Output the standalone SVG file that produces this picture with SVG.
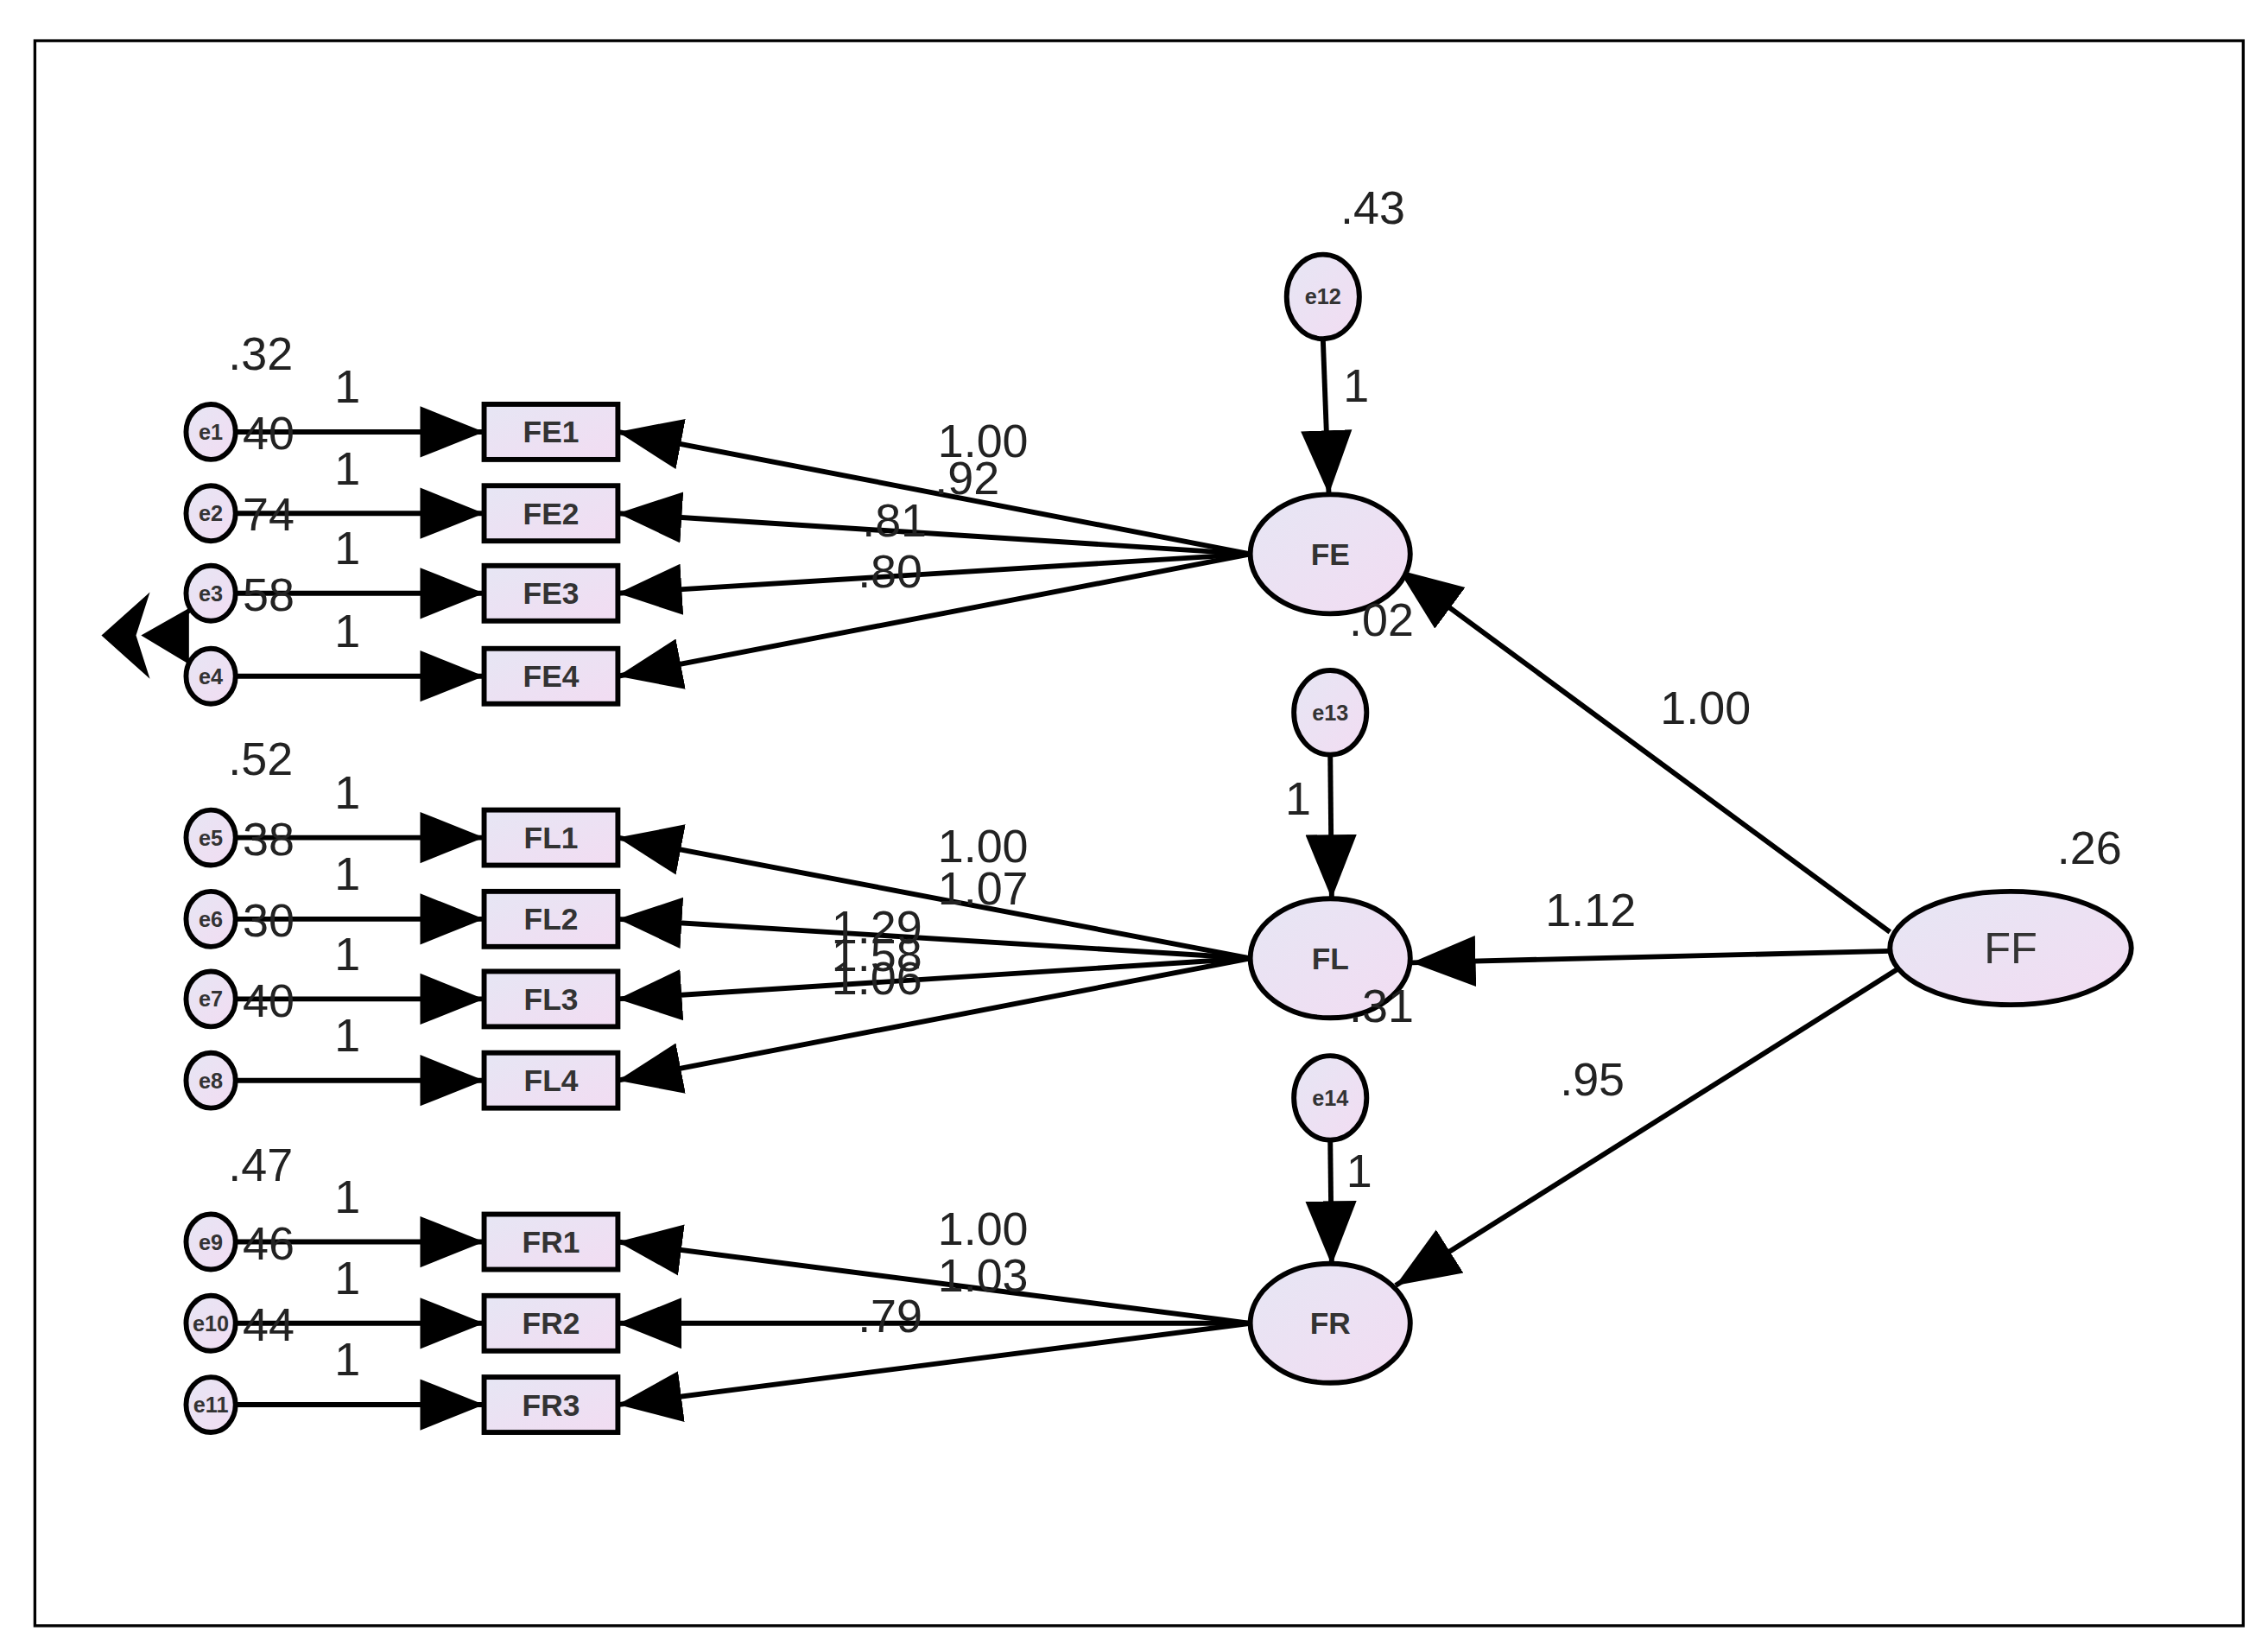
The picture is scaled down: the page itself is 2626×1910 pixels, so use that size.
<svg xmlns="http://www.w3.org/2000/svg" width="2626" height="1910" viewBox="0 0 2626 1910">
<defs>
<linearGradient id="g" x1="0" y1="0" x2="1" y2="1"><stop offset="0" stop-color="#e6e6f4"/><stop offset="1" stop-color="#f2dcf2"/></linearGradient>
<marker id="a" viewBox="0 0 10 10" refX="10" refY="5" markerWidth="44" markerHeight="44" markerUnits="userSpaceOnUse" orient="auto"><path d="M0,1 L10,5 L0,9 z" fill="#000"/></marker>
<style>
.n{fill:url(#g);stroke:#000;stroke-width:3.5}
.c{stroke:#000;stroke-width:3.5;fill:none;marker-end:url(#a)}
.t{font-family:"Liberation Sans",Arial,sans-serif;font-size:32px;fill:#222}
.l{font-family:"Liberation Sans",Arial,sans-serif;font-size:21px;font-weight:bold;fill:#333;text-anchor:middle;dominant-baseline:central}
.s{font-size:15px}
</style>
</defs>
<rect width="2626" height="1910" fill="#fff"/>
<g transform="scale(1.6833)">
<rect x="24" y="28" width="1519" height="1090" fill="none" stroke="#000" stroke-width="2"/>
<g id="connectors">
<line class="c" x1="162" y1="297" x2="333" y2="297"/>
<line class="c" x1="162" y1="353" x2="333" y2="353"/>
<line class="c" x1="162" y1="408" x2="333" y2="408"/>
<line class="c" x1="162" y1="465" x2="333" y2="465"/>
<line class="c" x1="162" y1="576" x2="333" y2="576"/>
<line class="c" x1="162" y1="632" x2="333" y2="632"/>
<line class="c" x1="162" y1="687" x2="333" y2="687"/>
<line class="c" x1="162" y1="743" x2="333" y2="743"/>
<line class="c" x1="162" y1="854" x2="333" y2="854"/>
<line class="c" x1="162" y1="910" x2="333" y2="910"/>
<line class="c" x1="162" y1="966" x2="333" y2="966"/>
<line class="c" x1="860" y1="381" x2="425" y2="297"/>
<line class="c" x1="860" y1="381" x2="425" y2="353"/>
<line class="c" x1="860" y1="381" x2="425" y2="408"/>
<line class="c" x1="860" y1="381" x2="425" y2="465"/>
<line class="c" x1="860" y1="659" x2="425" y2="576"/>
<line class="c" x1="860" y1="659" x2="425" y2="632"/>
<line class="c" x1="860" y1="659" x2="425" y2="687"/>
<line class="c" x1="860" y1="659" x2="425" y2="743"/>
<line class="c" x1="860" y1="910" x2="425" y2="854"/>
<line class="c" x1="860" y1="910" x2="425" y2="910"/>
<line class="c" x1="860" y1="910" x2="425" y2="966"/>
<line class="c" x1="910" y1="233" x2="914" y2="340"/>
<line class="c" x1="915" y1="519" x2="916" y2="618"/>
<line class="c" x1="915" y1="784" x2="916" y2="870"/>
<line class="c" x1="1300" y1="641" x2="962" y2="392"/>
<line class="c" x1="1300" y1="654" x2="971" y2="662"/>
<line class="c" x1="1306" y1="666" x2="960" y2="884"/>
<path d="M130,420 Q108,437 130,455" fill="none" stroke="#000" stroke-width="3"/>
<path d="M72,437 L100,412 L92,437 L100,462 z M130,420 L100,437 L130,455" fill="#000" stroke="#000" stroke-width="3"/>
</g>
<g id="e1"><ellipse class="n" cx="145" cy="297" rx="17" ry="19"/><text class="l s" x="145" y="297">e1</text></g>
<g id="e2"><ellipse class="n" cx="145" cy="353" rx="17" ry="19"/><text class="l s" x="145" y="353">e2</text></g>
<g id="e3"><ellipse class="n" cx="145" cy="408" rx="17" ry="19"/><text class="l s" x="145" y="408">e3</text></g>
<g id="e4"><ellipse class="n" cx="145" cy="465" rx="17" ry="19"/><text class="l s" x="145" y="465">e4</text></g>
<g id="e5"><ellipse class="n" cx="145" cy="576" rx="17" ry="19"/><text class="l s" x="145" y="576">e5</text></g>
<g id="e6"><ellipse class="n" cx="145" cy="632" rx="17" ry="19"/><text class="l s" x="145" y="632">e6</text></g>
<g id="e7"><ellipse class="n" cx="145" cy="687" rx="17" ry="19"/><text class="l s" x="145" y="687">e7</text></g>
<g id="e8"><ellipse class="n" cx="145" cy="743" rx="17" ry="19"/><text class="l s" x="145" y="743">e8</text></g>
<g id="e9"><ellipse class="n" cx="145" cy="854" rx="17" ry="19"/><text class="l s" x="145" y="854">e9</text></g>
<g id="e10"><ellipse class="n" cx="145" cy="910" rx="17" ry="19"/><text class="l s" x="145" y="910">e10</text></g>
<g id="e11"><ellipse class="n" cx="145" cy="966" rx="17" ry="19"/><text class="l s" x="145" y="966">e11</text></g>
<g id="FE1"><rect class="n" x="333" y="278" width="92" height="38"/><text class="l" x="379" y="297">FE1</text></g>
<g id="FE2"><rect class="n" x="333" y="334" width="92" height="38"/><text class="l" x="379" y="353">FE2</text></g>
<g id="FE3"><rect class="n" x="333" y="389" width="92" height="38"/><text class="l" x="379" y="408">FE3</text></g>
<g id="FE4"><rect class="n" x="333" y="446" width="92" height="38"/><text class="l" x="379" y="465">FE4</text></g>
<g id="FL1"><rect class="n" x="333" y="557" width="92" height="38"/><text class="l" x="379" y="576">FL1</text></g>
<g id="FL2"><rect class="n" x="333" y="613" width="92" height="38"/><text class="l" x="379" y="632">FL2</text></g>
<g id="FL3"><rect class="n" x="333" y="668" width="92" height="38"/><text class="l" x="379" y="687">FL3</text></g>
<g id="FL4"><rect class="n" x="333" y="724" width="92" height="38"/><text class="l" x="379" y="743">FL4</text></g>
<g id="FR1"><rect class="n" x="333" y="835" width="92" height="38"/><text class="l" x="379" y="854">FR1</text></g>
<g id="FR2"><rect class="n" x="333" y="891" width="92" height="38"/><text class="l" x="379" y="910">FR2</text></g>
<g id="FR3"><rect class="n" x="333" y="947" width="92" height="38"/><text class="l" x="379" y="966">FR3</text></g>
<g id="e12"><ellipse class="n" cx="910" cy="204" rx="25" ry="29"/><text class="l s" x="910" y="204">e12</text></g>
<g id="e13"><ellipse class="n" cx="915" cy="490" rx="25" ry="29"/><text class="l s" x="915" y="490">e13</text></g>
<g id="e14"><ellipse class="n" cx="915" cy="755" rx="25" ry="29"/><text class="l s" x="915" y="755">e14</text></g>
<g id="FE"><ellipse class="n" cx="915" cy="381" rx="55" ry="41"/><text class="l" x="915" y="381">FE</text></g>
<g id="FL"><ellipse class="n" cx="915" cy="659" rx="55" ry="41"/><text class="l" x="915" y="659">FL</text></g>
<g id="FR"><ellipse class="n" cx="915" cy="910" rx="55" ry="41"/><text class="l" x="915" y="910">FR</text></g>
<g id="FF"><ellipse class="n" cx="1383" cy="652" rx="83" ry="39"/><text class="l" x="1383" y="652" style="font-size:30px;font-weight:normal">FF</text></g>
<g id="labels" class="t">
<text x="157" y="254">.32</text><text x="157" y="533">.52</text><text x="157" y="812">.47</text>
<text x="230" y="277">1</text><text x="230" y="333">1</text><text x="230" y="388">1</text><text x="230" y="445">1</text>
<text x="230" y="556">1</text><text x="230" y="612">1</text><text x="230" y="667">1</text><text x="230" y="723">1</text>
<text x="230" y="834">1</text><text x="230" y="890">1</text><text x="230" y="946">1</text>
<text x="167" y="309">40</text><text x="167" y="365">74</text><text x="167" y="420">58</text>
<text x="167" y="588">38</text><text x="167" y="644">30</text><text x="167" y="699">40</text>
<text x="167" y="866">46</text><text x="167" y="922">44</text>
<text x="645" y="314">1.00</text><text x="643" y="340">.92</text><text x="593" y="369">.81</text><text x="590" y="404">.80</text>
<text x="645" y="593">1.00</text><text x="645" y="622">1.07</text><text x="572" y="649">1.29</text><text x="572" y="668">1.58</text><text x="572" y="684">1.06</text>
<text x="645" y="856">1.00</text><text x="645" y="888">1.03</text><text x="590" y="916">.79</text>
<text x="922" y="154">.43</text><text x="924" y="276">1</text><text x="928" y="437">.02</text>
<text x="884" y="560">1</text><text x="928" y="703">.31</text><text x="926" y="816">1</text>
<text x="1415" y="594">.26</text><text x="1142" y="498">1.00</text><text x="1063" y="637">1.12</text><text x="1073" y="753">.95</text>
</g>
</g>
</svg>
